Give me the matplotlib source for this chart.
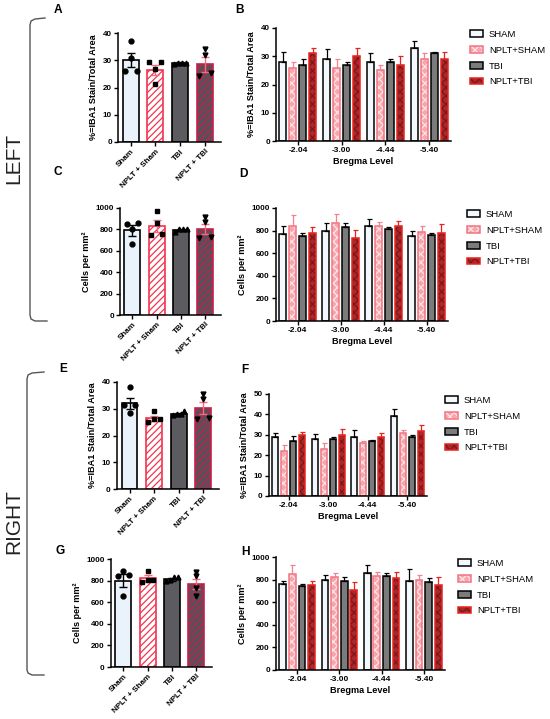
import numpy as np
import matplotlib
matplotlib.use("Agg")
import matplotlib.pyplot as plt
from matplotlib.lines import Line2D

plt.rcParams['font.family'] = ['Liberation Sans', 'DejaVu Sans']
plt.rcParams['font.weight'] = 'bold'
plt.rcParams['hatch.linewidth'] = 0.9

W, H = 550, 719

GROUPS = ["Sham", "NPLT + Sham", "TBI", "NPLT + TBI"]
LEGEND = ["SHAM", "NPLT+SHAM", "TBI", "NPLT+TBI"]
BREGMA = ["-2.04", "-3.00", "-4.44", "-5.40"]
IBA_LABEL = "%=IBA1 Stain/Total Area"
CELL_LABEL = "Cells per mm²"

# panel A - left IBA1 total
a_points = [[37, 31, 26, 26], [29.2, 29.2, 26.8, 21.2], [29, 29, 29, 28.8], [34, 32, 24.2, 25.2]]
a_mean = [30, 26.5, 28.9, 28.5]
a_sem = [2.6, 1.8, 0.3, 2.8]

# panel B - left IBA1 by bregma level
b_mean = [[28, 29, 28, 33], [26, 26, 25, 29], [27, 27, 28, 31], [31, 30, 27, 29]]
b_err = [[3.6, 3.6, 3.1, 2.5], [2.1, 3.1, 2.0, 2.1], [2.1, 1.0, 1.0, 0.6], [2.0, 3.0, 3.1, 2.6]]

# panel C - left cell density total
c_points = [[850, 860, 805, 660], [969, 860, 752, 761], [800, 805, 800, 775], [912, 872, 722, 732]]
c_mean = [790, 832, 797, 805]
c_sem = [55, 52, 10, 45]

# panel D - left cell density by bregma level
d_mean = [[770, 795, 845, 755], [840, 865, 845, 785], [750, 830, 810, 760], [780, 735, 845, 775]]
d_err = [[70, 70, 60, 40], [95, 85, 30, 55], [30, 35, 20, 15], [50, 70, 40, 85]]

# panel E - right IBA1 total
e_points = [[38, 31.5, 31.5, 28.5], [29.2, 25.1, 26.1, 26.1], [27.6, 28, 28.2, 29.2], [35.5, 33.5, 26.5, 26]]
e_mean = [32, 26.4, 28, 30.3]
e_sem = [2.2, 1.0, 0.4, 2.3]

# panel F - right IBA1 by bregma level
f_mean = [[29, 28, 29, 39], [22, 23, 26, 31], [27, 28, 27, 29], [30, 30, 29, 32]]
f_err = [[2.0, 2.5, 3.5, 3.5], [3.0, 3.0, 1.0, 1.5], [2.5, 1.0, 0.5, 1.0], [1.5, 3.0, 2.0, 3.0]]

# panel G - right cell density total
g_points = [[890, 840, 850, 660], [892, 784, 806, 806], [830, 805, 800, 835], [882, 842, 728, 657]]
g_mean = [800, 821, 812, 768]
g_sem = [57, 30, 14, 48]

# panel H - right cell density by bregma level
h_mean = [[760, 800, 860, 790], [850, 820, 830, 795], [740, 790, 835, 780], [750, 705, 815, 750]]
h_err = [[30, 45, 70, 105], [75, 35, 35, 50], [25, 30, 20, 30], [40, 75, 50, 70]]

# styles
LEFT_STYLE = [
    dict(facecolor="#eaf2fb", edgecolor="black", hatch=None),
    dict(facecolor="white", edgecolor="#f2344f", hatch="/////"),
    dict(facecolor="#5c5c60", edgecolor="black", hatch=None),
    dict(facecolor="#55505a", edgecolor="#c8204a", hatch="/////"),
]
LEFT_ERR = ["black", "#f26a7c", "black", "#f26a7c"]
LEFT_MARK = ["o", "s", "^", "v"]

# right panels: fill, hatch colour, hatch, edge
RIGHT_STYLE = [
    dict(facecolor="#f3f8fc", hatchcolor="#f3f8fc", hatch=None, edgecolor="black"),
    dict(facecolor="#f7a6ae", hatchcolor="#fde6e8", hatch="xxxx", edgecolor="#f4737f"),
    dict(facecolor="#7b7b7b", hatchcolor="#7b7b7b", hatch=None, edgecolor="black"),
    dict(facecolor="#a8282b", hatchcolor="#7c1718", hatch="xxxx", edgecolor="#e8231f"),
]
RIGHT_ERR = ["black", "#f4838e", "black", "#e8231f"]


def px_axes(fig, left, top, right, bottom):
    return fig.add_axes([left / W, 1 - bottom / H, (right - left) / W, (bottom - top) / H])


def style_axes(ax, ymax, step):
    for s in ["top", "right"]:
        ax.spines[s].set_visible(False)
    for s in ["left", "bottom"]:
        ax.spines[s].set_linewidth(1.1)
    ax.set_ylim(0, ymax)
    ax.set_yticks(np.arange(0, ymax + step / 2, step))
    ax.tick_params(axis="both", length=3, width=1.0, labelsize=5.8, pad=1.5)


def spread(values, ymax):
    # horizontal offsets for overlapping points (scatter dot plot)
    order = np.argsort(values)
    offs = np.zeros(len(values))
    clusters = [[order[0]]]
    for i in order[1:]:
        if values[i] - values[clusters[-1][-1]] < 0.04 * ymax:
            clusters[-1].append(i)
        else:
            clusters.append([i])
    for cl in clusters:
        if len(cl) > 1:
            for k, idx in enumerate(cl):
                offs[idx] = -0.24 + 0.48 * k / (len(cl) - 1)
    return offs


def dot_panel(ax, points, means, sems, ymax, step, ylabel):
    x = np.arange(len(GROUPS))
    for i in range(len(GROUPS)):
        st = LEFT_STYLE[i]
        ax.bar(x[i], means[i], width=0.65, facecolor=st["facecolor"], edgecolor=st["edgecolor"],
               hatch=st["hatch"], linewidth=1.2, zorder=2)
        ax.errorbar(x[i], means[i], yerr=sems[i], fmt="none", ecolor=LEFT_ERR[i],
                    elinewidth=1.0, capsize=3, capthick=1.0, zorder=3)
        offs = spread(points[i], ymax)
        ax.plot(x[i] + offs, points[i], linestyle="none", marker=LEFT_MARK[i],
                markersize=3.5, color="black", zorder=4, clip_on=False)
    style_axes(ax, ymax, step)
    ax.set_xlim(-0.51, 3.65)
    ax.set_xticks(x)
    ax.set_xticklabels(GROUPS, rotation=45, ha="right", rotation_mode="anchor", fontsize=5.8)
    ax.set_ylabel(ylabel, fontsize=6.6, fontweight="bold", labelpad=3)


def group_panel(fig, ax, means, errs, ymax, step, ylabel, leg_xy):
    x = np.arange(len(BREGMA))
    pitch = 0.227
    handles = []
    for i in range(len(LEGEND)):
        st = RIGHT_STYLE[i]
        xi = x + (i - 1.5) * pitch
        fill = ax.bar(xi, means[i], width=0.16, facecolor=st["facecolor"], edgecolor=st["hatchcolor"],
                      hatch=st["hatch"], linewidth=0, zorder=2)
        edge = ax.bar(xi, means[i], width=0.16, facecolor="none", edgecolor=st["edgecolor"],
                      linewidth=1.1, zorder=2.5)
        handles.append((fill, edge))
        ax.errorbar(xi, means[i], yerr=[np.zeros(len(x)), errs[i]], fmt="none",
                    ecolor=RIGHT_ERR[i], elinewidth=0.9, capsize=1.8, capthick=0.9, zorder=3)
    style_axes(ax, ymax, step)
    ax.set_xlim(-0.5, 3.5)
    ax.set_xticks(x)
    ax.set_xticklabels(BREGMA, fontsize=6)
    ax.set_xlabel("Bregma Level", fontsize=6.6, fontweight="bold", labelpad=2)
    ax.set_ylabel(ylabel, fontsize=6.6, fontweight="bold", labelpad=3)
    leg = ax.legend(handles=handles, labels=LEGEND, loc="upper left",
                    bbox_to_anchor=(leg_xy[0] / W, 1 - leg_xy[1] / H), bbox_transform=fig.transFigure,
                    frameon=False, prop={"size": 6.8, "weight": "normal"}, handlelength=1.4,
                    handleheight=0.7, labelspacing=0.72, handletextpad=0.6,
                    borderpad=0, borderaxespad=0)
    return leg


def panel_letter(fig, letter, x, y):
    fig.text(x / W, 1 - y / H, letter, fontsize=8.6, fontweight="bold", ha="center", va="center")


def bracket(fig, pts):
    xs = [p[0] / W for p in pts]
    ys = [1 - p[1] / H for p in pts]
    fig.add_artist(Line2D(xs, ys, transform=fig.transFigure, color="#555555", linewidth=1.0))


def main():
    fig = plt.figure(figsize=(W / 100, H / 100), dpi=100)

    ax_a = px_axes(fig, 118, 33, 221, 142)
    dot_panel(ax_a, a_points, a_mean, a_sem, 40, 10, IBA_LABEL)
    ax_b = px_axes(fig, 276, 28, 451, 141)
    group_panel(fig, ax_b, b_mean, b_err, 40, 10, IBA_LABEL, (470, 30))

    ax_c = px_axes(fig, 120, 208, 221, 315)
    dot_panel(ax_c, c_points, c_mean, c_sem, 1000, 200, CELL_LABEL)
    ax_d = px_axes(fig, 276, 208, 448, 321)
    group_panel(fig, ax_d, d_mean, d_err, 1000, 200, CELL_LABEL, (467, 210))

    ax_e = px_axes(fig, 117, 382, 219, 489)
    dot_panel(ax_e, e_points, e_mean, e_sem, 40, 10, IBA_LABEL)
    ax_f = px_axes(fig, 269, 394, 427, 496)
    group_panel(fig, ax_f, f_mean, f_err, 50, 10, IBA_LABEL, (445, 396))

    ax_g = px_axes(fig, 111, 559, 212, 667)
    dot_panel(ax_g, g_points, g_mean, g_sem, 1000, 200, CELL_LABEL)
    ax_h = px_axes(fig, 276, 557, 445, 670)
    group_panel(fig, ax_h, h_mean, h_err, 1000, 200, CELL_LABEL, (458, 559))

    for letter, x, y in [("A", 58, 10), ("B", 240, 10), ("C", 58, 172), ("D", 243, 174),
                         ("E", 63, 369), ("F", 245, 370), ("G", 60, 551), ("H", 245, 552)]:
        panel_letter(fig, letter, x, y)

    bracket(fig, [(45, 18), (35, 19), (31, 21), (30, 25), (30, 315), (31, 319), (35, 321), (47, 321)])
    bracket(fig, [(44, 372), (32, 373), (28, 375), (27, 379), (27, 670), (28, 673), (32, 675), (44, 675)])
    fig.text(14 / W, 1 - 158 / H, "LEFT", rotation=90, fontsize=15, fontweight="normal",
             ha="center", va="center", color="#222222")
    fig.text(14 / W, 1 - 522 / H, "RIGHT", rotation=90, fontsize=15, fontweight="normal",
             ha="center", va="center", color="#222222")

    fig.savefig("out.png", dpi=100, facecolor="white")


if __name__ == "__main__":
    main()
